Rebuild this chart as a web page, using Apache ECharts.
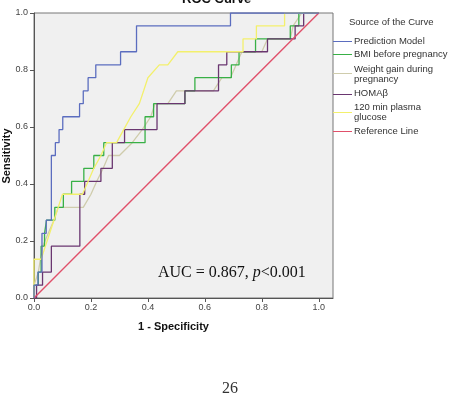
<!DOCTYPE html>
<html>
<head>
<meta charset="utf-8">
<script src="https://cdn.jsdelivr.net/npm/echarts@6/dist/echarts.min.js"></script>
<style>
  html, body { margin: 0; padding: 0; background: #fff; }
  #main { width: 450px; height: 397px; }
</style>
</head>
<body>
<div id="main"></div>
<script>
// curve points, [1 - specificity, sensitivity]
var predModel = [[0,0],[0,0.045],[0.014,0.045],[0.014,0.091],[0.028,0.091],[0.028,0.227],[0.043,0.227],[0.043,0.273],[0.061,0.273],[0.061,0.5],[0.075,0.5],[0.075,0.545],[0.088,0.545],[0.088,0.591],[0.101,0.591],[0.101,0.636],[0.16,0.636],[0.16,0.682],[0.173,0.682],[0.173,0.727],[0.19,0.727],[0.19,0.773],[0.217,0.773],[0.217,0.818],[0.304,0.818],[0.304,0.864],[0.36,0.864],[0.36,0.955],[0.69,0.955],[0.69,1],[1,1]];
var bmiBefore = [[0,0],[0,0.045],[0.015,0.045],[0.015,0.091],[0.025,0.091],[0.025,0.182],[0.037,0.182],[0.037,0.227],[0.044,0.227],[0.044,0.273],[0.073,0.273],[0.073,0.318],[0.103,0.318],[0.103,0.364],[0.132,0.364],[0.132,0.409],[0.175,0.409],[0.175,0.455],[0.21,0.455],[0.21,0.5],[0.245,0.5],[0.245,0.545],[0.39,0.545],[0.39,0.636],[0.42,0.636],[0.42,0.682],[0.53,0.682],[0.53,0.727],[0.565,0.727],[0.565,0.773],[0.693,0.773],[0.693,0.818],[0.72,0.818],[0.72,0.864],[0.778,0.864],[0.778,0.909],[0.9,0.909],[0.9,0.955],[0.93,0.955],[0.93,1],[1,1]];
var weightGain = [[0,0],[0,0.045],[0.015,0.09],[0.03,0.18],[0.05,0.227],[0.07,0.273],[0.085,0.318],[0.173,0.318],[0.2,0.364],[0.22,0.409],[0.243,0.455],[0.262,0.5],[0.3,0.5],[0.345,0.545],[0.38,0.591],[0.41,0.636],[0.425,0.682],[0.47,0.682],[0.5,0.727],[0.63,0.727],[0.66,0.773],[0.69,0.773],[0.73,0.864],[0.8,0.864],[0.82,0.909],[0.9,0.909],[0.91,0.955],[0.94,1],[1,1]];
var homaB = [[0,0],[0.009,0],[0.009,0.045],[0.03,0.045],[0.03,0.091],[0.061,0.091],[0.061,0.182],[0.161,0.182],[0.161,0.364],[0.178,0.364],[0.178,0.409],[0.235,0.409],[0.235,0.455],[0.275,0.455],[0.275,0.545],[0.318,0.545],[0.318,0.591],[0.432,0.591],[0.432,0.682],[0.53,0.682],[0.53,0.727],[0.648,0.727],[0.648,0.818],[0.677,0.818],[0.677,0.864],[0.82,0.864],[0.82,0.909],[0.917,0.909],[0.917,0.955],[0.947,0.955],[0.947,1],[1,1]];
var glucose120 = [[0,0],[0,0.136],[0.025,0.136],[0.04,0.182],[0.055,0.227],[0.07,0.273],[0.085,0.318],[0.1,0.364],[0.17,0.364],[0.19,0.409],[0.21,0.455],[0.235,0.5],[0.255,0.545],[0.29,0.545],[0.315,0.591],[0.34,0.636],[0.37,0.682],[0.385,0.727],[0.4,0.773],[0.44,0.818],[0.47,0.818],[0.505,0.864],[0.734,0.864],[0.734,0.909],[0.781,0.909],[0.781,0.955],[0.88,0.955],[0.88,1],[1,1]];
var referenceLine = [[0,0],[1,1]];

var seriesNames = ['Prediction Model', 'BMI before pregnancy', 'Weight gain during\npregnancy', 'HOMAβ', '120 min plasma\nglucose', 'Reference Line'];
var seriesData = [predModel, bmiBefore, weightGain, homaB, glucose120, referenceLine];
var seriesColors = ['#5b6dbf', '#38b046', '#cfccac', '#6a3670', '#f3f06c', '#e0506a'];
var tickValues = [0, 0.2, 0.4, 0.6, 0.8, 1.0];

var font = 'Arial, "Liberation Sans", sans-serif';
var serif = '"Times New Roman", "Liberation Serif", serif';

var myChart = echarts.init(document.getElementById('main'));

// draw order: light lines underneath, blue on top
var drawOrder = [2, 1, 3, 4, 5, 0];
var series = drawOrder.map(function (i) {
  return {
    name: seriesNames[i],
    type: 'line',
    data: seriesData[i],
    showSymbol: false,
    animation: false,
    z: 3,
    lineStyle: { color: seriesColors[i], width: i === 5 ? 1.4 : 1.3 }
  };
});

// hand made legend, lines start at the plot's right border
var legendY = [42, 55, 75, 94, 113, 132];
var lineY = [41, 54, 73, 94, 112, 131];
var graphics = [
  { type: 'text', left: 349, top: 17, style: { text: 'Source of the Curve', font: '9.5px ' + font, fill: '#333' } },
  { type: 'text', left: 138, top: 321, style: { text: '1 - Specificity', font: 'bold 11px ' + font, fill: '#111' } },
  { type: 'text', left: 182, top: -7, style: { text: 'ROC Curve', font: 'bold 13px ' + font, fill: '#111' } },
  { type: 'text', x: 7, y: 156, rotation: Math.PI / 2, style: {
      text: 'Sensitivity', font: 'bold 11px ' + font, fill: '#111', align: 'center', verticalAlign: 'middle' } },
  { type: 'text', left: 158, top: 265, z: 10, style: {
      text: '{n|AUC = 0.867, }{i|p}{n|<0.001}',
      rich: {
        n: { font: '16px ' + serif, fill: '#111' },
        i: { font: 'italic 16px ' + serif, fill: '#111' }
      }
  } },
  { type: 'text', left: 222, top: 381, style: { text: '26', font: '16px ' + serif, fill: '#333' } }
];
for (var k = 0; k < seriesNames.length; k++) {
  graphics.push({ type: 'line', shape: { x1: 333, y1: lineY[k] + 0.5, x2: 352, y2: lineY[k] + 0.5 }, style: { stroke: seriesColors[k], lineWidth: 1 } });
  graphics.push({ type: 'text', left: 354, top: legendY[k] - (seriesNames[k].indexOf('\n') > -1 ? 10 : 5) - 1,
    style: { text: seriesNames[k], font: '9.5px ' + font, fill: '#333', lineHeight: 10 } });
}

var option = {
  backgroundColor: '#fff',
  animation: false,
  grid: {
    left: 34, top: 13, width: 299, height: 285,
    outerBoundsMode: 'none',
    containLabel: false,
    show: true,
    backgroundColor: '#f0f0f0',
    borderColor: '#777',
    borderWidth: 1
  },
  xAxis: {
    type: 'value',
    min: 0,
    max: 1.05,
    axisLine: { lineStyle: { color: '#555' } },
    axisTick: { show: true, length: 4, customValues: tickValues, lineStyle: { color: '#555' } },
    axisLabel: { customValues: tickValues, fontSize: 9, fontFamily: font, color: '#444', margin: 5,
      formatter: function (v) { return v.toFixed(1); } },
    splitLine: { show: false }
  },
  yAxis: {
    type: 'value',
    min: 0,
    max: 1,
    interval: 0.2,
    axisLine: { show: true, lineStyle: { color: '#555' } },
    axisTick: { show: true, length: 4, lineStyle: { color: '#555' } },
    axisLabel: { fontSize: 9, fontFamily: font, color: '#444', margin: 6,
      formatter: function (v) { return v.toFixed(1); } },
    splitLine: { show: false }
  },
  graphic: graphics,
  series: series
};
myChart.setOption(option);
</script>
</body>
</html>
